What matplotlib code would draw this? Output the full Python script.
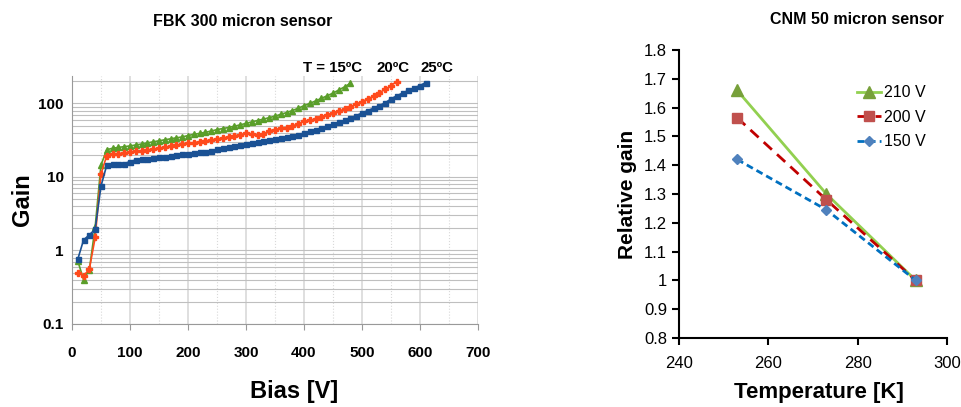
import numpy as np
import matplotlib.pyplot as plt
from matplotlib.ticker import FixedLocator, LogLocator, NullFormatter

plt.rcParams['font.family'] = ['Liberation Sans', 'DejaVu Sans']

# =========================
# DADOS - FBK 300 micron
# =========================
bias_15 = list(range(10, 490, 10))
gain_15 = [0.72, 0.40, 0.55, 2.1, 14.5, 23.5, 24.5, 25.2, 25.8, 26.4,
           27.2, 28, 29, 30, 31, 32, 33, 34, 35, 36.5,
           38, 39, 40.5, 42, 44, 45.5, 47, 49, 51, 53.5,
           56, 58.5, 61, 64, 67, 71, 75, 80, 86, 93,
           100, 108, 117, 127, 138, 152, 168, 188]

bias_20 = list(range(10, 570, 10))
gain_20 = [0.5, 0.45, 0.56, 1.5, 11, 19.5, 20.3, 20.8, 21.2, 21.8,
           22.3, 22.8, 23.3, 23.8, 24.5, 25.2, 26, 27, 27.8, 28.5,
           29.3, 30, 30.8, 31.8, 32.8, 33.8, 35, 36.2, 37.5, 39,
           37.8, 37.5, 38.2, 42.5, 44, 46, 47, 49, 53, 57,
           59, 61, 66, 70, 75, 79, 83, 90, 98, 106,
           115, 126, 140, 155, 175, 198]

bias_25 = list(range(10, 620, 10))
gain_25 = [0.76, 1.39, 1.63, 1.95, 7.5, 14.5, 14.8, 14.9, 15.1, 16.2,
           17, 17.4, 17.8, 18.1, 18.5, 18.9, 19.3, 19.8, 20.2, 20.5,
           21, 21.5, 22, 22.5, 23.8, 24.5, 25.5, 26.3, 27.2, 28,
           29, 30, 30.8, 31.7, 32.5, 33.5, 34.8, 36, 37.5, 39.5,
           41.5, 43.5, 46, 48.5, 52, 55, 59, 63, 68, 74,
           80, 86, 93, 102, 115, 127, 138, 150, 163, 175,
           192]

# =========================
# DADOS - CNM 50 micron
# =========================
temperatura = [253, 273, 293]
ganho_210 = [1.66, 1.30, 1.00]
ganho_200 = [1.565, 1.28, 1.00]
ganho_150 = [1.42, 1.245, 1.00]

fig = plt.figure(figsize=(9.61, 4.07), dpi=100)

# =========================
# GRAFICO ESQUERDO
# =========================
ax1 = fig.add_axes([0.0749, 0.204, 0.4225, 0.609])
ax1.set_yscale('log')
ax1.plot(bias_15, gain_15, color='#5a9e2a', lw=1.2, marker='^', ms=4, zorder=3)
ax1.plot(bias_20, gain_20, color='#ff4a1c', lw=1.2, marker='P', ms=4, zorder=3)
ax1.plot(bias_25, gain_25, color='#1a5194', lw=1.2, marker='s', ms=3.6, zorder=3)
ax1.set_xlim(0, 700)
ax1.set_ylim(0.1, 235)
ax1.set_xticks(range(0, 701, 100))
ax1.xaxis.set_minor_locator(FixedLocator(range(50, 700, 100)))
ax1.set_yticks([0.1, 1, 10, 100])
ax1.set_yticklabels(['0.1', '1', '10', '100'])
ax1.yaxis.set_minor_locator(LogLocator(base=10, subs=np.arange(2, 10)))
ax1.yaxis.set_minor_formatter(NullFormatter())
ax1.grid(True, which='major', axis='x', color='#d9d9d9', lw=1.2)
ax1.grid(True, which='minor', axis='x', color='#d9d9d9', lw=0.8, ls=':')
ax1.grid(True, which='both', axis='y', color='#bfbfbf', lw=0.8)
for s in ['top', 'right']:
    ax1.spines[s].set_visible(False)
ax1.spines['left'].set_color('#999999')
ax1.spines['bottom'].set_color('#999999')
ax1.tick_params(axis='x', which='major', length=4, color='#999999', pad=12,
                labelsize=11)
ax1.tick_params(axis='x', which='minor', length=0)
ax1.tick_params(axis='y', which='both', length=0, pad=6, labelsize=11)
for lab in ax1.get_xticklabels() + ax1.get_yticklabels():
    lab.set_fontweight('bold')
ax1.set_xlabel('Bias [V]', fontsize=17, fontweight='bold', labelpad=14)
ax1.xaxis.label.set_x(0.547)
ax1.set_ylabel('Gain', fontsize=17, fontweight='bold', labelpad=3)
fig.text(0.253, 0.947, 'FBK 300 micron sensor', ha='center', va='center',
         fontsize=11.5, fontweight='bold')
fig.text(0.3155, 0.833, 'T = 15ºC', fontsize=10.8, fontweight='bold', va='center')
fig.text(0.392, 0.833, '20ºC', fontsize=10.8, fontweight='bold', va='center')
fig.text(0.438, 0.833, '25ºC', fontsize=10.8, fontweight='bold', va='center')

# =========================
# GRAFICO DIREITO
# =========================
ax2 = fig.add_axes([0.7066, 0.1695, 0.2789, 0.7076])
ax2.plot(temperatura, ganho_210, color='#92d050', lw=2, marker='^', ms=8,
         mfc='#77a03a', mec='#77a03a', label='210 V', zorder=3)
ax2.plot(temperatura, ganho_200, color='#c00000', lw=2, ls=(0, (4, 2.5)), marker='s',
         ms=7.5, mfc='#c0504d', mec='#c0504d', label='200 V', zorder=3)
ax2.plot(temperatura, ganho_150, color='#0070c0', lw=2, ls=(0, (2.5, 1.5)), marker='D',
         ms=5.5, mfc='#4f81bd', mec='#4f81bd', label='150 V', zorder=3)
ax2.set_xlim(240, 300)
ax2.set_ylim(0.8, 1.8)
ax2.set_xticks([240, 260, 280, 300])
ax2.set_yticks(np.arange(0.8, 1.81, 0.1))
ax2.set_yticklabels(['0.8', '0.9', '1', '1.1', '1.2', '1.3', '1.4', '1.5', '1.6',
                     '1.7', '1.8'])
for s in ['top', 'right']:
    ax2.spines[s].set_visible(False)
ax2.spines['left'].set_linewidth(1.5)
ax2.spines['bottom'].set_linewidth(1.5)
ax2.tick_params(axis='both', width=1.5, length=5, labelsize=12)
ax2.tick_params(axis='x', pad=8)
ax2.set_xlabel('Temperature [K]', fontsize=16, fontweight='bold', labelpad=8)
ax2.xaxis.label.set_x(0.522)
ax2.set_ylabel('Relative gain', fontsize=15, fontweight='bold', labelpad=5)
fig.text(0.892, 0.951, 'CNM 50 micron sensor', ha='center', va='center',
         fontsize=11.5, fontweight='bold')
ax2.legend(loc='upper left', bbox_to_anchor=(0.64, 0.9), frameon=False,
           fontsize=11.5, handlelength=1.5, handletextpad=0.2, labelspacing=0.6,
           borderaxespad=0)

plt.savefig('out.png', dpi=100)
